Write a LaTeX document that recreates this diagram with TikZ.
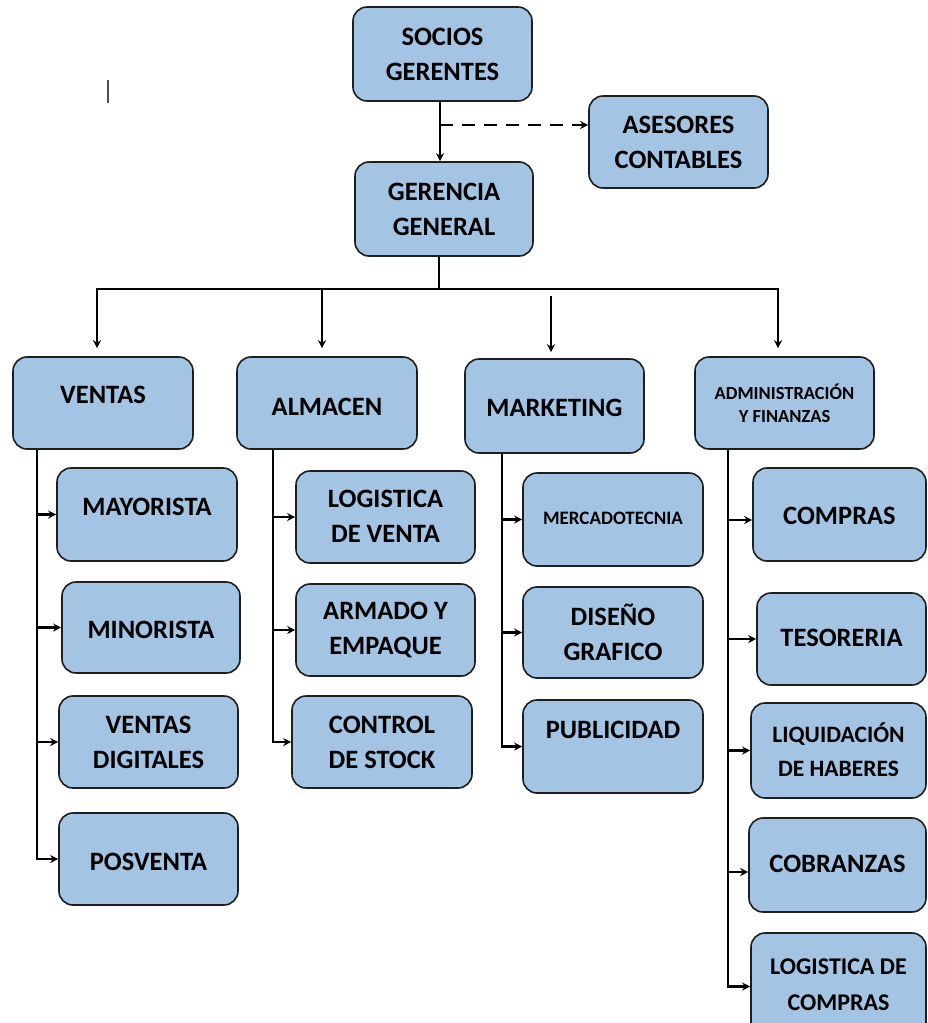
\documentclass[tikz,border=0pt]{standalone}
\usepackage{fontspec}
\setmainfont{Carlito}
\usetikzlibrary{arrows.meta}
\definecolor{boxblue}{RGB}{163,196,226}
\definecolor{boxline}{RGB}{30,30,30}
\tikzset{
  obox/.style={draw=boxline, line width=1.6pt, fill=boxblue, rounded corners=14pt, inner sep=0pt},
  otext/.style={font=\bfseries\fontsize{26.5}{35}\selectfont, align=center, inner sep=0pt, text=black},
  conn/.style={line width=2.6pt, draw=black},
  arr/.style={conn, -{Stealth[length=8pt,width=8pt]}},
}
\newcommand{\orgbox}[8][]{%
  \node[obox, minimum width={(#5-#3)*1pt}, minimum height={(#6-#4)*1pt}] (#2) at ({(#3+#5)/2},{(#4+#6)/2}) {};
  \node[otext,#1] (#2t) at ({(#3+#5)/2},#7) {#8};}
\begin{document}
\begin{tikzpicture}[x=1pt,y=-1pt]
\useasboundingbox (0,0) rectangle (928,1023);
\clip (0,0) rectangle (928,1023);
\fill[white] (0,0) rectangle (928,1023);
% stray cursor mark
\draw[black!70, line width=1.8pt] (108,80) -- (108,103);
% top level
\orgbox{soc}{353}{7}{532}{101}{54}{SOCIOS\\GERENTES}
\orgbox{ase}{589}{96}{768}{188}{142}{ASESORES\\CONTABLES}
\orgbox{ger}{355}{162}{533}{256}{209}{GERENCIA\\GENERAL}
% second level
\orgbox{ven}{13}{357}{193}{449}{395}{VENTAS}
\orgbox{alm}{237}{357}{417}{449}{407}{ALMACEN}
\orgbox{mkt}{465}{359}{644}{453}{408}{MARKETING}
\orgbox[font=\bfseries\fontsize{18.5}{23}\selectfont]{adm}{695}{357}{874}{449}{403}{ADMINISTRACIÓN\\Y FINANZAS}
% ventas children
\orgbox{may}{57}{468}{237}{561}{507}{MAYORISTA}
\orgbox{min}{62}{582}{240}{673}{630}{MINORISTA}
\orgbox{vdg}{59}{696}{238}{788}{742}{VENTAS\\DIGITALES}
\orgbox{pos}{59}{813}{238}{905}{862}{POSVENTA}
% almacen children
\orgbox{lgv}{296}{471}{475}{563}{516}{LOGISTICA\\DE VENTA}
\orgbox{arm}{296}{584}{475}{676}{630}{ARMADO Y\\EMPAQUE}
\orgbox{ctl}{292}{696}{472}{788}{742}{CONTROL\\DE STOCK}
% marketing children
\orgbox[font=\bfseries\fontsize{19}{22}\selectfont]{mer}{523}{473}{703}{566}{518}{MERCADOTECNIA}
\orgbox{dis}{523}{587}{703}{678}{632}{DISEÑO\\GRAFICO}
\orgbox{pub}{523}{700}{703}{793}{730}{PUBLICIDAD}
% administracion children
\orgbox{com}{753}{468}{926}{561}{516}{COMPRAS}
\orgbox{tes}{757}{593}{926}{685}{638}{TESORERIA}
\orgbox[font=\bfseries\fontsize{23.5}{34}\selectfont]{liq}{751}{703}{926}{798}{750}{LIQUIDACIÓN\\DE HABERES}
\orgbox{cob}{749}{818}{926}{912}{864}{COBRANZAS}
\orgbox[font=\bfseries\fontsize{24}{36}\selectfont]{lgc}{751}{933}{926}{1040}{985}{LOGISTICA DE\\COMPRAS}
% top connectors
\coordinate (t) at (440,125);
\draw[arr] (soc.south -| t) -- (ger.north -| t);
\draw[arr, dash pattern=on 13pt off 9pt] (t) -- (t -| ase.west);
% bus
\coordinate (g) at (439,289);
\coordinate (b1) at (97,289);
\coordinate (b2) at (322,289);
\coordinate (b3) at (551,296);
\coordinate (b4) at (778,289);
\draw[conn] (ger.south -| g) -- (g);
\draw[conn, line cap=rect] (b1) -- (b4);
\draw[arr] (b1) -- ([yshift=8pt]ven.north -| b1);
\draw[arr] (b2) -- ([yshift=8pt]alm.north -| b2);
\draw[arr] (b3) -- ([yshift=6pt]mkt.north -| b3);
\draw[arr] (b4) -- ([yshift=8pt]adm.north -| b4);
% ventas branch
\coordinate (vx) at (37,0);
\draw[arr] (ven.south -| vx) |- (pos.west);
\draw[arr] (may.west -| vx) -- (may.west);
\draw[arr] (min.west -| vx) -- (min.west);
\draw[arr] (vdg.west -| vx) -- (vdg.west);
% almacen branch
\coordinate (ax) at (273,0);
\draw[arr] (alm.south -| ax) |- (ctl.west);
\draw[arr] (lgv.west -| ax) -- (lgv.west);
\draw[arr] (arm.west -| ax) -- (arm.west);
% marketing branch
\coordinate (mx) at (502,0);
\draw[arr] (mkt.south -| mx) |- (pub.west);
\draw[arr] (mer.west -| mx) -- (mer.west);
\draw[arr] (dis.west -| mx) -- (dis.west);
% administracion branch
\coordinate (dx) at (728,0);
\coordinate (c1) at (728,520);
\coordinate (c4) at (728,872);
\draw[arr] (adm.south -| dx) |- (lgc.west);
\draw[arr] (c1) -- (c1 -| com.west);
\draw[arr] (tes.west -| dx) -- (tes.west);
\draw[arr] (liq.west -| dx) -- (liq.west);
\draw[arr] (c4) -- (c4 -| cob.west);
\end{tikzpicture}
\end{document}
